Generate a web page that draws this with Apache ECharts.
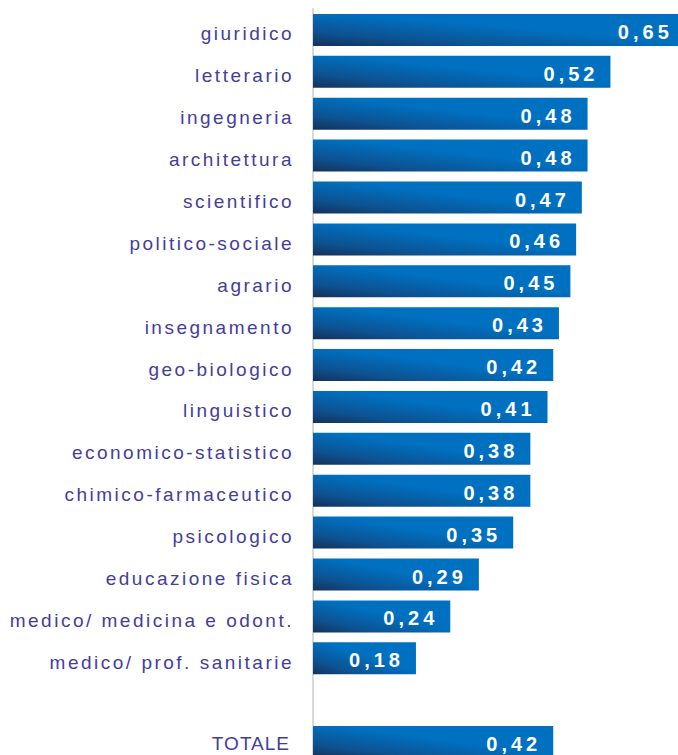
<!DOCTYPE html>
<html>
<head>
<meta charset="utf-8">
<script src="https://cdn.jsdelivr.net/npm/echarts@6/dist/echarts.min.js"></script>
<style>
  html, body { margin: 0; padding: 0; background: #fff; overflow: hidden; width: 678px; height: 755px; }
  #chart { width: 714px; height: 780px; }
  #chart text { letter-spacing: 2.5px; }
  #chart text[style*="lighter"] { letter-spacing: 1px; }
  #chart text[style*="bold"], #chart text[fill="#fff"], #chart text[fill="#ffffff"] { letter-spacing: 4px; }
</style>
</head>
<body>
<div id="chart"></div>
<script>
// Indice per ambito disciplinare (l'ultima riga è il totale; la riga vuota separa il totale)
const categories = [
  'giuridico', 'letterario', 'ingegneria', 'architettura', 'scientifico',
  'politico-sociale', 'agrario', 'insegnamento', 'geo-biologico', 'linguistico',
  'economico-statistico', 'chimico-farmaceutico', 'psicologico', 'educazione fisica',
  'medico/ medicina e odont.', 'medico/ prof. sanitarie', '', 'TOTALE'
];
const values = [
  0.65, 0.52, 0.48, 0.48, 0.47,
  0.46, 0.45, 0.43, 0.42, 0.41,
  0.38, 0.38, 0.35, 0.29,
  0.24, 0.18, '-', 0.42
];
const totalLabel = 'TOTALE';

const barFill = new echarts.graphic.LinearGradient(0, 1, 1, 0, [
  { offset: 0, color: '#15315a' },
  { offset: 0.22, color: '#0d5291' },
  { offset: 0.55, color: '#0070c0' },
  { offset: 1, color: '#0070c0' }
]);

const chart = echarts.init(document.getElementById('chart'), null, { renderer: 'svg' });
chart.setOption({
  animation: false,
  backgroundColor: '#ffffff',
  grid: { left: 313, top: 9, height: 754, width: 400.4 },
  xAxis: {
    type: 'value', min: 0, max: 0.7, show: false
  },
  yAxis: {
    type: 'category',
    inverse: true,
    data: categories,
    axisLine: { show: true, lineStyle: { color: '#d9d9d9', width: 2 } },
    axisTick: { show: false },
    axisLabel: {
      color: '#443d9a',
      fontFamily: '"Liberation Sans", Arial, sans-serif',
      fontSize: 19,
      margin: 19,
      formatter: v => !v ? '' : (v === totalLabel ? '{tot|' + v + '}' : '{t|' + v + '}'),
      rich: {
        t: { padding: [8, 0, 0, 0] },
        tot: { padding: [3, 4, 0, 0], fontWeight: 'lighter' }
      }
    }
  },
  series: [{
    type: 'bar',
    data: values,
    barWidth: 32,
    itemStyle: { color: barFill },
    label: {
      show: true,
      position: 'insideRight',
      distance: 12,
      offset: [0, 2],
      color: '#ffffff',
      fontFamily: '"Liberation Sans", Arial, sans-serif',
      fontWeight: 'bold',
      fontSize: 20,
      formatter: p => p.value.toFixed(2).replace('.', ',')
    }
  }]
});
</script>
</body>
</html>
